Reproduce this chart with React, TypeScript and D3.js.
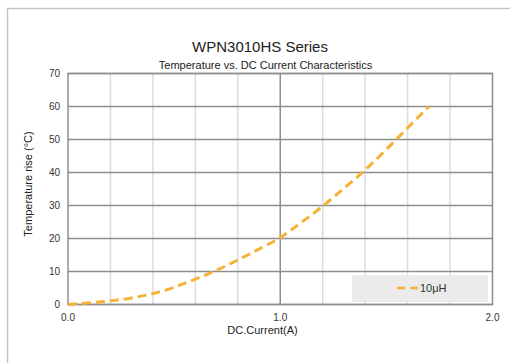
import { useEffect, useRef } from 'react';
import * as d3 from 'd3';

// DC current (A) vs temperature rise (°C), 10μH
const currentA = [0, 0.1, 0.2, 0.3, 0.4, 0.5, 0.6, 0.7, 0.8, 0.9, 1.0, 1.1, 1.2, 1.3, 1.4, 1.5, 1.6, 1.7];
const tempRise = [0, 0.5, 1.1, 2.0, 3.3, 5.2, 7.7, 10.4, 13.5, 16.8, 20.3, 24.9, 29.8, 35.2, 40.8, 47.0, 53.5, 60.0];
const yTicks = [0, 10, 20, 30, 40, 50, 60, 70];
const xMinor = [0.2, 0.4, 0.6, 0.8, 1.2, 1.4, 1.6, 1.8];
const xLabels = [0, 1, 2];
const seriesName = '10μH';

export default function App() {
  const svgRef = useRef<SVGSVGElement>(null);

  useEffect(() => {
    if (!svgRef.current) return;
    const svg = d3.select(svgRef.current);
    svg.selectAll('*').remove();

    const width = 510;
    const height = 363;
    const margin = { top: 73.5, right: 17.5, bottom: 58.5, left: 68 };
    const innerWidth = width - margin.left - margin.right;
    const innerHeight = height - margin.top - margin.bottom;
    const font = 'Liberation Sans, Arial, sans-serif';
    const orange = '#f6b234';

    svg.append('rect').attr('width', width).attr('height', height).attr('fill', '#fff');

    // outer frame
    svg.append('path')
      .attr('d', `M7.5,${height} V8.5 H${width}`)
      .attr('fill', 'none')
      .attr('stroke', '#c4c4c4')
      .attr('stroke-width', 1.5);

    const x = d3.scaleLinear().domain([0, 2]).range([0, innerWidth]);
    const y = d3.scaleLinear().domain([0, 70]).range([innerHeight, 0]);

    const g = svg.append('g').attr('transform', `translate(${margin.left},${margin.top})`);

    // minor verticals
    g.selectAll('.vminor').data(xMinor).enter().append('line')
      .attr('x1', d => x(d)).attr('x2', d => x(d))
      .attr('y1', 0).attr('y2', innerHeight)
      .attr('stroke', '#dcdcdc').attr('stroke-width', 1.5);

    // horizontal grid
    g.selectAll('.hgrid').data(yTicks).enter().append('line')
      .attr('x1', 0).attr('x2', innerWidth)
      .attr('y1', d => y(d)).attr('y2', d => y(d))
      .attr('stroke', '#8e8e8e').attr('stroke-width', 1.5);

    // major vertical at 1.0
    g.append('line')
      .attr('x1', x(1)).attr('x2', x(1))
      .attr('y1', 0).attr('y2', innerHeight)
      .attr('stroke', '#8e8e8e').attr('stroke-width', 1.5);

    g.append('rect')
      .attr('width', innerWidth).attr('height', innerHeight)
      .attr('fill', 'none').attr('stroke', '#8e8e8e').attr('stroke-width', 1.5);

    // legend box
    g.append('rect')
      .attr('x', 284).attr('y', 201.5)
      .attr('width', 136).attr('height', 27)
      .attr('fill', '#ebebeb');
    g.append('line')
      .attr('x1', 329).attr('x2', 350)
      .attr('y1', 214.5).attr('y2', 214.5)
      .attr('stroke', orange).attr('stroke-width', 2.5)
      .attr('stroke-dasharray', '8,5');
    g.append('text')
      .attr('x', 352).attr('y', 218.5)
      .attr('font-family', font).attr('font-size', 11).attr('fill', '#333')
      .text(seriesName);

    // curve
    const pts = currentA.map((c, i) => [c, tempRise[i]] as [number, number]);
    const line = d3.line<[number, number]>()
      .x(d => x(d[0]))
      .y(d => y(d[1]))
      .curve(d3.curveMonotoneX);
    g.append('path')
      .datum(pts)
      .attr('fill', 'none')
      .attr('stroke', orange)
      .attr('stroke-width', 3)
      .attr('stroke-dasharray', '9,5')
      .attr('d', line);

    // y tick labels
    g.selectAll('.ylab').data(yTicks).enter().append('text')
      .attr('x', -8).attr('y', d => y(d) + 3.5)
      .attr('text-anchor', 'end')
      .attr('font-family', font).attr('font-size', 10).attr('fill', '#333')
      .text(d => String(d));

    // x tick labels
    g.selectAll('.xlab').data(xLabels).enter().append('text')
      .attr('x', d => x(d)).attr('y', innerHeight + 16)
      .attr('text-anchor', 'middle')
      .attr('font-family', font).attr('font-size', 10).attr('fill', '#333')
      .text(d => d.toFixed(1));

    // titles
    svg.append('text')
      .attr('x', 260).attr('y', 52)
      .attr('text-anchor', 'middle')
      .attr('font-family', font).attr('font-size', 15).attr('fill', '#222')
      .text('WPN3010HS Series');
    svg.append('text')
      .attr('x', 265.5).attr('y', 69)
      .attr('text-anchor', 'middle')
      .attr('font-family', font).attr('font-size', 11).attr('fill', '#222')
      .text('Temperature vs. DC Current Characteristics');
    svg.append('text')
      .attr('x', 262.5).attr('y', 334)
      .attr('text-anchor', 'middle')
      .attr('font-family', font).attr('font-size', 11).attr('fill', '#222')
      .text('DC.Current(A)');
    svg.append('text')
      .attr('transform', 'translate(32,184) rotate(-90)')
      .attr('text-anchor', 'middle')
      .attr('font-family', font).attr('font-size', 11).attr('fill', '#222')
      .text('Temperature rise (°C)');
  }, []);

  return (
    <svg
      ref={svgRef}
      width={510}
      height={363}
      style={{ display: 'block', position: 'absolute', left: 0, top: 0 }}
    />
  );
}
